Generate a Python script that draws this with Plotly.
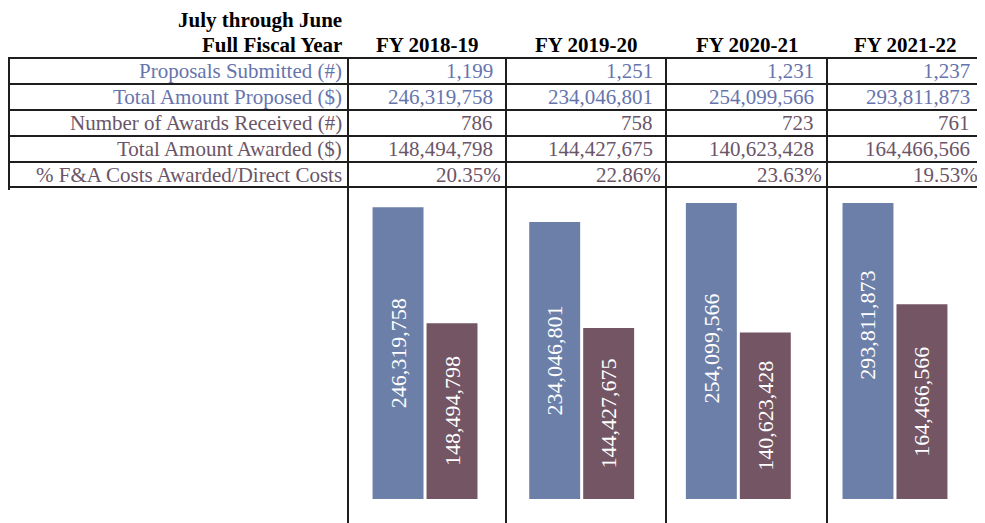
import plotly.graph_objects as go

# ---- data ----
fiscal_years = ["FY 2018-19", "FY 2019-20", "FY 2020-21", "FY 2021-22"]
row_labels = [
    "Proposals Submitted (#)",
    "Total Amount Proposed ($)",
    "Number of Awards Received (#)",
    "Total Amount Awarded ($)",
    "% F&A Costs Awarded/Direct Costs",
]
proposals_submitted = [1199, 1251, 1231, 1237]
amount_proposed = [246319758, 234046801, 254099566, 293811873]
awards_received = [786, 758, 723, 761]
amount_awarded = [148494798, 144427675, 140623428, 164466566]
fa_pct = [20.35, 22.86, 23.63, 19.53]

# ---- layout constants (pixels, measured in page coords) ----
OFF = 8  # page body margin
W, H = 985 - OFF, 523 - OFF
FONT = "Liberation Serif, Times New Roman, serif"
BLUE = "#6b7fa9"
MAUVE = "#735564"
TXT_BLUE = "#6674ad"
TXT_MAUVE = "#6b5568"
LINE = "#1e1e1e"

row_edges = [58, 84, 110, 136, 162, 187]
col_edges = [7, 348, 506, 666, 827, 983]
plot_left, plot_right = 346.7, 973.3
plot_top, plot_bottom = 203, 499


def px(x):
    return (x - OFF) / W


def py(y):
    return 1 - (y - OFF) / H


fig = go.Figure()
fig.add_trace(go.Bar(
    x=fiscal_years, y=amount_proposed, marker_color=BLUE,
    text=[f"{v:,}" for v in amount_proposed],
))
fig.add_trace(go.Bar(
    x=fiscal_years, y=amount_awarded, marker_color=MAUVE,
    text=[f"{v:,}" for v in amount_awarded],
))
fig.update_traces(
    textposition="inside", insidetextanchor="middle", textangle=-90,
    textfont=dict(family=FONT, size=22, color="white"),
    marker_line_width=0, hoverinfo="skip",
)

# ---- table lines ----
shapes = []
for y in row_edges:
    shapes.append(dict(type="line", x0=px(OFF), x1=px(col_edges[-1]),
                       y0=py(y), y1=py(y)))
shapes.append(dict(type="line", x0=px(OFF + 1), x1=px(OFF + 1),
                   y0=py(row_edges[0]), y1=py(row_edges[-1] + 3)))
for x in col_edges[1:]:
    shapes.append(dict(type="line", x0=px(x), x1=px(x), y0=py(row_edges[0]), y1=py(H + OFF)))
for s in shapes:
    s.update(xref="paper", yref="paper", line=dict(color=LINE, width=2))

# ---- table text ----
ann = []
hdr = dict(family=FONT, size=21, color="black")
ann.append(dict(text="<b>July through June</b>", x=px(344), y=py(20), xanchor="right", font=hdr))
ann.append(dict(text="<b>Full Fiscal Year</b>", x=px(344), y=py(45), xanchor="right", font=hdr))
for i, fy in enumerate(fiscal_years):
    cx = (col_edges[i + 1] + col_edges[i + 2]) / 2
    ann.append(dict(text=f"<b>{fy}</b>", x=px(cx), y=py(45), xanchor="center", font=hdr))

rows = [
    ([f"{v:,}" for v in proposals_submitted], TXT_BLUE, 11),
    ([f"{v:,}" for v in amount_proposed], TXT_BLUE, 11),
    ([f"{v:,}" for v in awards_received], TXT_MAUVE, 11),
    ([f"{v:,}" for v in amount_awarded], TXT_MAUVE, 11),
    ([f"{v:.2f}%" for v in fa_pct], TXT_MAUVE, 3),
]
for r, (vals, color, pad) in enumerate(rows):
    cy = (row_edges[r] + row_edges[r + 1]) / 2
    f = dict(family=FONT, size=21, color=color)
    ann.append(dict(text=row_labels[r], x=px(344), y=py(cy), xanchor="right", font=f))
    for i, v in enumerate(vals):
        ann.append(dict(text=v, x=px(col_edges[i + 2] - pad), y=py(cy), xanchor="right", font=f))
for a in ann:
    a.update(xref="paper", yref="paper", yanchor="middle", showarrow=False)

fig.update_layout(
    width=W, height=H,
    margin=dict(l=0, r=0, t=0, b=0),
    paper_bgcolor="white", plot_bgcolor="white",
    barmode="group", bargap=0.311, bargroupgap=0.056,
    showlegend=False,
    xaxis=dict(domain=[px(plot_left), px(plot_right)], visible=False),
    yaxis=dict(domain=[py(plot_bottom), py(plot_top)], range=[0, 250e6], visible=False),
    shapes=shapes, annotations=ann,
)
fig.write_html("out.html")
